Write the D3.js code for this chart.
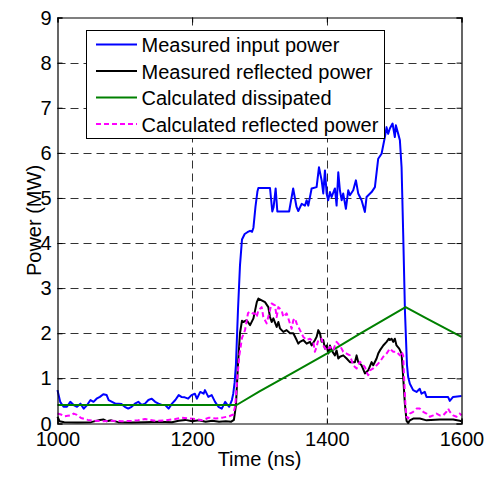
<!DOCTYPE html>
<html><head><meta charset="utf-8">
<script src="https://cdn.jsdelivr.net/npm/d3@7"></script>
<style>body{margin:0;background:#fff}svg{display:block}text{font-family:"Liberation Sans",Arial,sans-serif}</style>
</head><body>
<script>
// ---- data ----
const xTicks = [1000, 1200, 1400, 1600];
const yTicks = [0,1,2,3,4,5,6,7,8,9];
const seriesNames = ["Measured input power","Measured reflected power","Calculated dissipated","Calculated reflected power"];
const measuredInput = [[1000,0.74],[1004,0.48],[1009,0.37],[1014,0.37],[1019,0.48],[1024,0.41],[1029,0.37],[1034,0.44],[1039,0.33],[1044,0.41],[1049,0.52],[1053.5,0.48],[1058,0.55],[1063,0.59],[1068,0.65],[1073,0.63],[1076,0.52],[1081,0.48],[1086,0.44],[1091,0.44],[1095,0.43],[1100,0.37],[1105,0.33],[1110,0.37],[1115,0.44],[1120,0.48],[1125,0.41],[1130,0.44],[1135,0.52],[1140,0.55],[1145,0.48],[1150,0.44],[1155,0.41],[1160,0.41],[1165,0.33],[1170,0.44],[1175,0.52],[1180,0.63],[1184,0.59],[1189,0.58],[1194,0.55],[1199,0.63],[1204,0.66],[1207,0.55],[1212,0.70],[1217,0.66],[1219,0.74],[1224,0.59],[1229,0.63],[1234,0.48],[1239,0.37],[1244,0.33],[1249,0.48],[1251,0.44],[1255,0.37],[1259,0.52],[1261,0.66],[1263,0.9],[1265,1.3],[1268,2.5],[1271,3.5],[1274,4.08],[1278,4.2],[1282,4.24],[1286,4.27],[1289,4.25],[1291,4.34],[1294,4.8],[1297,5.15],[1298.3,5.22],[1315.6,5.22],[1319,4.70],[1321,4.8],[1324,5.21],[1326.5,4.70],[1344,4.70],[1350,5.21],[1355,4.80],[1357.6,4.71],[1362.6,4.87],[1367.5,4.83],[1370,4.95],[1372.5,4.83],[1377.4,5.21],[1384.8,5.24],[1388.3,5.68],[1392.3,5.39],[1394.7,5.10],[1397.2,5.61],[1399.7,5.10],[1402,4.95],[1404.6,5.13],[1407,5.02],[1412,5.21],[1414.5,4.83],[1417,5.57],[1419.4,5.17],[1422,4.95],[1424.3,5.10],[1428.3,4.76],[1431.8,5.17],[1434.3,5.06],[1439.2,5.17],[1443.2,5.39],[1446.6,5.10],[1451.6,4.95],[1456.5,4.69],[1459,5.02],[1466.5,5.13],[1471.4,5.24],[1476.3,5.87],[1481.3,5.98],[1486.2,6.35],[1488.7,6.57],[1491,6.42],[1493.6,6.54],[1497.6,6.65],[1501,6.35],[1502.5,6.61],[1506,6.42],[1508.5,6.28],[1511,5.68],[1513.4,4.21],[1516,2.5],[1519,1.3],[1520.8,1.03],[1523.3,0.88],[1528.2,0.74],[1533.2,0.70],[1538,0.77],[1540.6,0.66],[1545.5,0.70],[1548,0.59],[1580,0.59],[1582.6,0.50],[1587.5,0.59],[1600,0.61]];
const measuredReflected = [[1000,0.15],[1003,0.05],[1010,0.03],[1030,0.02],[1050,0.03],[1063,0.08],[1068,0.09],[1073,0.05],[1080,0.07],[1090,0.03],[1110,0.02],[1130,0.03],[1150,0.04],[1170,0.03],[1180,0.06],[1190,0.08],[1200,0.05],[1210,0.07],[1220,0.04],[1230,0.06],[1240,0.04],[1250,0.05],[1258,0.04],[1262,0.08],[1265,0.4],[1268,1.3],[1271,2.0],[1274,2.28],[1276,2.25],[1281,2.29],[1286,2.18],[1291,2.33],[1296,2.69],[1298.3,2.77],[1303.2,2.73],[1308.2,2.69],[1313.1,2.58],[1315.6,2.36],[1318.1,2.25],[1320.6,2.33],[1325.5,2.14],[1328,2.25],[1330.4,2.11],[1335.4,2.03],[1340.3,2.07],[1345.3,2.00],[1350.2,2.00],[1355.2,1.85],[1357.6,1.77],[1360.1,1.81],[1365,1.85],[1370,1.77],[1375,1.81],[1377.4,1.73],[1382.4,1.85],[1384.8,1.92],[1387.3,2.07],[1389.8,2.00],[1392.3,1.81],[1394.7,1.85],[1397.2,1.66],[1399.7,1.73],[1402.2,1.55],[1404.6,1.73],[1407.1,1.62],[1412,1.51],[1414.5,1.62],[1417,1.44],[1419.5,1.48],[1424.4,1.51],[1429.4,1.44],[1434.3,1.36],[1441.7,1.36],[1444.2,1.51],[1446.7,1.36],[1451.6,1.29],[1456.6,1.11],[1461.5,1.18],[1466.5,1.36],[1468.9,1.29],[1473.9,1.44],[1476.3,1.55],[1478.8,1.62],[1483.8,1.73],[1488.7,1.81],[1492.2,1.88],[1493.7,1.85],[1496.1,1.88],[1498.6,1.81],[1501,1.88],[1503.5,1.73],[1507.5,1.66],[1511,1.55],[1513.4,1.03],[1515.9,0.44],[1518.4,0.06],[1520.9,0.01],[1523.3,0.07],[1528.3,0.11],[1538.2,0.11],[1548,0.07],[1567.8,0.09],[1587.6,0.09],[1597.5,0.06],[1600,0.05]];
const calculatedDissipated = [[1000,0.41],[1266,0.41],[1300,0.71],[1350,1.13],[1400,1.55],[1450,2.0],[1517,2.58],[1548,2.33],[1600,1.92]];
const calculatedReflected = [[1000,0.22],[1005,0.2],[1010,0.16],[1015,0.17],[1020,0.18],[1024,0.22],[1029,0.19],[1035,0.12],[1045,0.08],[1055,0.06],[1066,0.05],[1080,0.06],[1095,0.05],[1110,0.06],[1120,0.07],[1130,0.1],[1145,0.06],[1160,0.07],[1175,0.1],[1185,0.13],[1195,0.11],[1205,0.1],[1215,0.07],[1225,0.13],[1235,0.11],[1245,0.13],[1255,0.16],[1261,0.2],[1264,0.4],[1267,1.0],[1270,1.5],[1274,1.9],[1278.5,2.07],[1283,2.45],[1286,2.48],[1290,2.44],[1293.3,2.44],[1295.8,2.36],[1298.3,2.51],[1303.2,2.58],[1305.7,2.36],[1310.6,2.22],[1318,2.66],[1323,2.62],[1325.5,2.36],[1328,2.58],[1332.9,2.51],[1335.4,2.36],[1340.3,2.44],[1342.8,2.33],[1347.7,2.10],[1350.2,2.29],[1352.7,2.33],[1355.1,2.22],[1360.1,2.07],[1365,1.92],[1370,1.85],[1374.9,1.88],[1379.9,1.81],[1382.3,1.59],[1384.8,1.70],[1387.3,1.85],[1392.2,1.88],[1394.7,1.73],[1399.6,1.62],[1404.6,1.70],[1409.5,1.62],[1412,1.73],[1414.5,1.81],[1419.4,1.73],[1424.4,1.59],[1429.3,1.55],[1434.3,1.51],[1439.2,1.29],[1444.2,1.22],[1449.1,1.37],[1454.1,1.29],[1456.6,1.25],[1459,1.14],[1461.5,1.07],[1464,1.18],[1468.9,1.22],[1473.9,1.29],[1478.8,1.37],[1483.8,1.48],[1488.7,1.55],[1493.6,1.66],[1498.6,1.59],[1503.5,1.59],[1508.5,1.51],[1511,1.59],[1513.4,1.51],[1514.9,0.96],[1516.9,0.37],[1518.4,0.15],[1520.8,0.11],[1523.3,0.22],[1528.3,0.26],[1533.2,0.33],[1538.2,0.33],[1543.1,0.26],[1548,0.22],[1553,0.15],[1558,0.18],[1562.9,0.22],[1567.8,0.18],[1572.8,0.18],[1577.7,0.26],[1580.2,0.33],[1582.7,0.26],[1587.6,0.18],[1592.6,0.15],[1597.5,0.22],[1600,0.18]];
const seriesColors = ["#0000ff","#000000","#008000","#ff00ff"];
const seriesDash = [null,null,null,"5,3"];

// ---- chart ----
const W = 488, H = 484;
const L = 57.5, R = 461.5, T = 17.5, B = 423.5;
const svg = d3.select("body").append("svg").attr("width", W).attr("height", H);
const x = d3.scaleLinear().domain([1000,1600]).range([L,R]);
const y = d3.scaleLinear().domain([0,9]).range([B,T]);

// grid
const grid = svg.append("g").attr("stroke","#000").attr("stroke-width",1).attr("stroke-dasharray","8,5").attr("opacity",0.8);
grid.selectAll("line.v").data(xTicks.slice(1,-1)).join("line")
  .attr("x1", d=>Math.round(x(d))+0.5).attr("x2", d=>Math.round(x(d))+0.5).attr("y1", T).attr("y2", B);
grid.selectAll("line.h").data(yTicks.slice(1,-1)).join("line")
  .attr("y1", d=>Math.round(y(d))+0.5).attr("y2", d=>Math.round(y(d))+0.5).attr("x1", L).attr("x2", R);

// series
const line = d3.line().x(d=>x(d[0])).y(d=>y(d[1]));
const all = [measuredInput, measuredReflected, calculatedDissipated, calculatedReflected];
const plot = svg.append("g");
[0,1,2,3].forEach(i => {
  plot.append("path").datum(all[i]).attr("d", line).attr("fill","none")
    .attr("stroke", seriesColors[i]).attr("stroke-width", 2)
    .attr("stroke-dasharray", seriesDash[i]).attr("stroke-linejoin","round");
});

// axes (ticks inside)
const fontSize = 20;
const axB = svg.append("g").attr("transform",`translate(0,${B})`)
  .call(d3.axisBottom(x).tickValues(xTicks).tickSize(-5).tickPadding(8.5).tickFormat(d3.format("d")));
const axT = svg.append("g").attr("transform",`translate(0,${T})`)
  .call(d3.axisTop(x).tickValues(xTicks).tickSize(-5).tickFormat(""));
const axL = svg.append("g").attr("transform",`translate(${L},0)`)
  .call(d3.axisLeft(y).tickValues(yTicks).tickSize(-5).tickPadding(6).tickFormat(d3.format("d")));
const axR = svg.append("g").attr("transform",`translate(${R},0)`)
  .call(d3.axisRight(y).tickValues(yTicks).tickSize(-5).tickFormat(""));
[axB,axT,axL,axR].forEach(a => {
  a.select(".domain").attr("stroke","#000").attr("stroke-width",1.2);
  a.selectAll(".tick line").attr("stroke","#000");
  a.selectAll("text").attr("font-size", fontSize).attr("fill","#000")
    .style("font-family",'"Liberation Sans",Arial,sans-serif');
});
axB.selectAll("text").attr("dy","0.71em");
axL.selectAll("text").attr("dy","0.33em");

// axis labels
svg.append("text").attr("x", (L+R)/2).attr("y", 466).attr("text-anchor","middle")
  .attr("font-size", fontSize).text("Time (ns)");
svg.append("text").attr("transform",`translate(40.5,${(T+B)/2}) rotate(-90)`).attr("text-anchor","middle")
  .attr("font-size", fontSize).text("Power (MW)");

// legend
const lg = svg.append("g");
lg.append("rect").attr("x",86.5).attr("y",30.5).attr("width",298).attr("height",108)
  .attr("fill","#fff").attr("stroke","#000").attr("stroke-width",1);
const rowY = [44.5, 71, 97.5, 124];
seriesNames.forEach((n,i) => {
  lg.append("line").attr("x1",96).attr("x2",137).attr("y1",rowY[i]).attr("y2",rowY[i])
    .attr("stroke",seriesColors[i]).attr("stroke-width",2).attr("stroke-dasharray",seriesDash[i]);
  lg.append("text").attr("x",141.5).attr("y",rowY[i]+7.5).attr("font-size",fontSize).text(n);
});
</script>
</body></html>
